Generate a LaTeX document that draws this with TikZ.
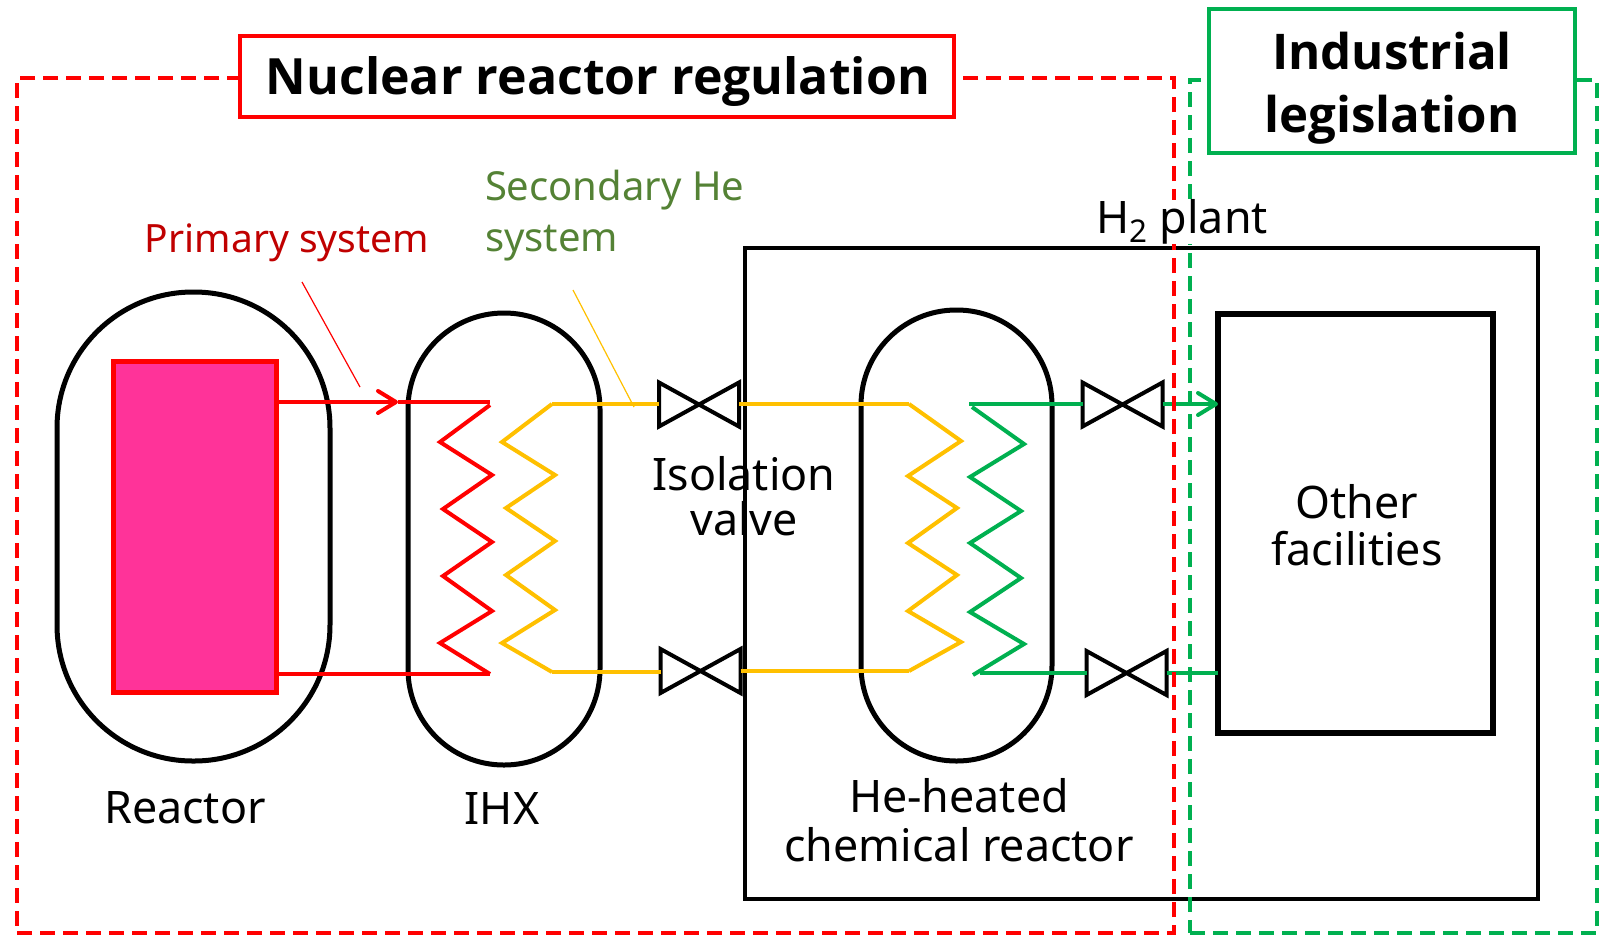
\documentclass[tikz,border=0pt]{standalone}
\usepackage{fontspec}
\setmainfont{Noto Sans}
\newfontfamily\titlefont{Open Sans}
\usetikzlibrary{arrows.meta}
\definecolor{pipered}{RGB}{255,0,0}
\definecolor{pipeyellow}{RGB}{255,192,0}
\definecolor{pipegreen}{RGB}{0,176,80}
\definecolor{corepink}{RGB}{255,51,153}
\definecolor{labelred}{RGB}{192,0,0}
\definecolor{labelgreen}{RGB}{84,130,53}
\tikzset{
    vessel/.style={draw,line width=2.5pt,inner sep=0pt,outer sep=0pt},
    plainbox/.style={draw,inner sep=0pt,outer sep=0pt},
    zone/.style={draw,line width=1.6pt,dash pattern=on 7.5pt off 4pt,inner sep=0pt,outer sep=0pt},
    titlebox/.style={draw,fill=white,line width=2pt,inner sep=0pt,outer sep=0pt},
    titletext/.style={inner sep=0pt,outer sep=0pt,font=\titlefont\fontsize{25}{31.5}\selectfont\bfseries,align=center},
    valvebox/.style={inner sep=0pt,outer sep=0pt,minimum width=40pt,minimum height=22pt},
    valveline/.style={line width=2pt,line join=miter},
    pipe/.style={line width=2pt},
    lbl/.style={inner sep=0pt,outer sep=0pt,font=\fontsize{22.4}{23.5}\selectfont,align=center},
    tip/.style={-{Straight Barb[length=9pt,width=11pt,round]}}
}
\begin{document}
\begin{tikzpicture}[x=0.5pt,y=-0.5pt]
    \useasboundingbox (0,0) rectangle (1603,934);

    % Vessels and boxes
    \node[plainbox,line width=2pt,minimum width=396.5pt,minimum height=325.5pt] (plant) at (1141.5,573.5) {};
    \node[vessel,rounded corners=68pt,minimum width=136.5pt,minimum height=234.5pt] (reactor) at (193.5,526.5) {};
    \node[vessel,rounded corners=47.9pt,minimum width=96pt,minimum height=226pt] (ihx) at (504,539) {};
    \node[vessel,rounded corners=47.6pt,minimum width=95.5pt,minimum height=225.5pt] (chem) at (956.5,535.5) {};
    \node[plainbox,draw=pipered,fill=corepink,line width=2.5pt,minimum width=81.75pt,minimum height=165.5pt] (core) at (195,526.5) {};
    \node[vessel,line width=2.8pt,minimum width=137.5pt,minimum height=209.5pt] (other) at (1355.5,523.5) {};

    % Coil points
    \foreach \i/\x/\y in {0/490/405,1/440/442,2/492/475,3/443/509,4/492/542,5/443/576,6/492/611,7/440/643,8/490/674}
        \coordinate (r\i) at (\x,\y);
    \foreach \i/\x/\y in {0/552/404,1/502/442,2/555/475,3/506/508,4/555/541,5/506/575,6/555/610,7/502/643,8/552/672}
        \coordinate (y\i) at (\x,\y);
    \foreach \i/\x/\y in {0/909/404,1/961/441,2/908/476,3/957/508,4/908/543,5/957/575,6/908/611,7/961/642,8/909/671}
        \coordinate (h\i) at (\x,\y);
    \foreach \i/\x/\y in {0/972/407,1/1024/444,2/970/477,3/1021/511,4/970/543,5/1021/578,6/970/612,7/1024/644,8/973/675}
        \coordinate (g\i) at (\x,\y);

    \draw[pipered,pipe] (r0)--(r1)--(r2)--(r3)--(r4)--(r5)--(r6)--(r7)--(r8);
    \draw[pipeyellow,pipe] (y0)--(y1)--(y2)--(y3)--(y4)--(y5)--(y6)--(y7)--(y8);
    \draw[pipeyellow,pipe] (h0)--(h1)--(h2)--(h3)--(h4)--(h5)--(h6)--(h7)--(h8);
    \draw[pipegreen,pipe] (g0)--(g1)--(g2)--(g3)--(g4)--(g5)--(g6)--(g7)--(g8);

    % Valves
    \foreach \n/\x/\y in {va/699/404.5,vb/700.5/671,vc/1122.5/404.5,vd/1126.5/673} {
        \node[valvebox] (\n) at (\x,\y) {};
        \draw[valveline] (\n.north west)--(\n.south east)--(\n.north east)--(\n.south west)--cycle;
    }

    % Pipes
    \coordinate (rtop) at (490,402);
    \coordinate (rbot) at (490,674);
    \coordinate (arrowend) at (398,402);
    \draw[pipered,pipe,tip] (rtop -| core.east) -- (arrowend);
    \draw[pipered,pipe] (arrowend) -- (rtop);
    \draw[pipered,pipe] (rbot -| core.east) -- (rbot);
    \draw[pipeyellow,pipe] (y0) -- (y0 -| va.west);
    \draw[pipeyellow,pipe] (y8 -| y0) -- (y8 -| vb.west);
    \draw[pipeyellow,pipe] (h0 -| va.east) -- (h0);
    \draw[pipeyellow,pipe] (h8 -| vb.east) -- (h8);
    \coordinate (gtop) at (969,404);
    \coordinate (gbot) at (980,673);
    \draw[pipegreen,pipe] (gtop) -- (gtop -| vc.west);
    \draw[pipegreen,pipe] (gbot) -- (gbot -| vd.west);
    \draw[pipegreen,pipe,tip] (gtop -| vc.east) -- (gtop -| other.west);
    \draw[pipegreen,pipe] (gbot -| vd.east) -- (gbot -| other.west);

    % Leader lines
    \coordinate (leadra) at (302,282);
    \coordinate (leadrb) at (360,387);
    \coordinate (leadya) at (573,290);
    \coordinate (leadyb) at (634,407);
    \draw[pipered,line width=0.6pt] (leadra) -- (leadrb);
    \draw[pipeyellow,line width=0.6pt] (leadya) -- (leadyb);

    % Regulation zones
    \node[zone,draw=pipered,minimum width=578.5pt,minimum height=427.5pt] (nuclearzone) at (595.5,505.5) {};
    \node[zone,draw=pipegreen,minimum width=203.5pt,minimum height=426.5pt] (industryzone) at (1393.5,506.5) {};
    \node[titlebox,draw=pipered,minimum width=357pt,minimum height=40.5pt] (nuclearbox) at (597,76.5) {};
    \node[titlebox,draw=pipegreen,minimum width=183pt,minimum height=72pt] (industrybox) at (1392,81) {};
    \node[titletext] (nucleartitle) at (598,82) {Nuclear reactor regulation};
    \node[titletext,font=\titlefont\fontsize{24.6}{31.7}\selectfont\bfseries] (industrytitle) at (1392,88) {Industrial\\legislation};

    % Labels
    \node[lbl,text=labelred,font=\fontsize{19.5}{25.5}\selectfont] (primarylabel) at (287,243) {Primary system};
    \node[lbl,text=labelgreen,align=left,anchor=west,font=\fontsize{20}{25.5}\selectfont] (secondarylabel) at (485,216) {Secondary He\\system};
    \node[lbl,fill=white] (plantlabel) at (1182,222) {H\textsubscript{2} plant};
    \node[lbl,font=\fontsize{22.4}{22.5}\selectfont] (valvelabel) at (744,496) {Isolation\\valve};
    \node[lbl] (otherlabel) at (1357,525) {Other\\facilities};
    \node[lbl] (reactorlabel) at (185,808) {Reactor};
    \node[lbl] (ihxlabel) at (502,808) {IHX};
    \node[lbl,font=\fontsize{22.4}{24.5}\selectfont] (chemlabel) at (959,820) {He-heated\\chemical reactor};
\end{tikzpicture}
\end{document}
